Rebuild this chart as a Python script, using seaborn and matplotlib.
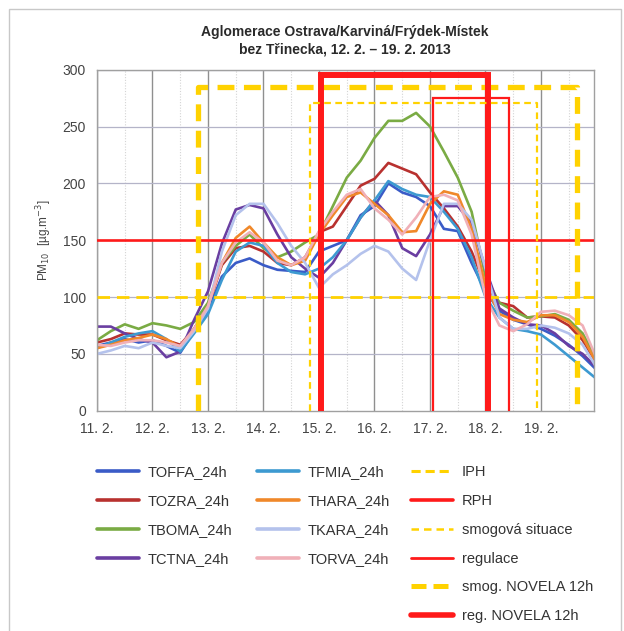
import numpy as np
import pandas as pd
import matplotlib.pyplot as plt
import seaborn as sns
from matplotlib.lines import Line2D
from matplotlib.patches import Rectangle

# hours since 11. 2. 00:00, one reading every 6 h
hours = list(range(0, 217, 6))

TOFFA = [57, 60, 63, 60, 62, 57, 51, 70, 88, 118, 130, 134, 128, 124, 123, 122, 140, 145, 150,
         172, 180, 200, 192, 188, 180, 160, 158, 130, 105, 88, 80, 76, 72, 66, 58, 48, 36]
TFMIA = [55, 60, 65, 68, 70, 63, 52, 68, 85, 115, 140, 148, 145, 130, 122, 120, 125, 135, 150,
         170, 185, 202, 195, 190, 188, 175, 160, 135, 100, 82, 72, 70, 67, 58, 48, 38, 28]
TOZRA = [60, 63, 68, 67, 67, 62, 58, 72, 92, 128, 143, 145, 140, 130, 128, 135, 157, 162, 180,
         198, 204, 218, 213, 208, 192, 178, 162, 140, 110, 95, 92, 82, 83, 82, 75, 62, 42]
THARA = [55, 58, 62, 64, 67, 63, 56, 72, 92, 130, 152, 162, 148, 135, 128, 132, 155, 172, 188,
         192, 182, 172, 157, 158, 182, 193, 190, 160, 110, 85, 80, 78, 84, 84, 78, 65, 42]
TBOMA = [62, 70, 76, 72, 77, 75, 72, 78, 95, 130, 145, 155, 143, 135, 140, 148, 155, 180, 205,
         220, 240, 255, 255, 262, 250, 228, 205, 175, 118, 95, 88, 82, 83, 85, 80, 68, 45]
TKARA = [50, 53, 57, 55, 60, 57, 55, 70, 90, 140, 172, 182, 182, 165, 145, 130, 108, 120, 128,
         138, 145, 140, 125, 115, 150, 182, 182, 168, 125, 82, 72, 72, 75, 73, 68, 58, 38]
TCTNA = [74, 74, 68, 63, 60, 47, 52, 80, 105, 147, 177, 181, 178, 155, 135, 125, 117, 130, 150,
         170, 185, 172, 143, 136, 155, 180, 180, 165, 125, 90, 82, 76, 75, 68, 57, 50, 38]
TORVA = [58, 57, 60, 62, 62, 60, 57, 72, 92, 130, 148, 157, 148, 132, 128, 135, 158, 175, 190,
         195, 178, 168, 155, 170, 188, 190, 185, 155, 100, 75, 70, 76, 87, 88, 84, 75, 46]

stations = ["TOFFA_24h", "TOZRA_24h", "TBOMA_24h", "TCTNA_24h",
            "TFMIA_24h", "THARA_24h", "TKARA_24h", "TORVA_24h"]
values = [TOFFA, TOZRA, TBOMA, TCTNA, TFMIA, THARA, TKARA, TORVA]
colors = ["#3a5bc7", "#b8312f", "#7aab44", "#6a3ea1",
          "#3d9ad1", "#f0882a", "#b4c2ec", "#f0b0b8"]

day_labels = ["11. 2.", "12. 2.", "13. 2.", "14. 2.", "15. 2.", "16. 2.", "17. 2.", "18. 2.", "19. 2."]

# limits
IPH = 100
RPH = 150

# episodes: name, start (days from 11. 2.), end, plotted level
ep_names = ["smog. NOVELA 12h", "reg. NOVELA 12h", "smogová situace", "regulace"]
ep_start = [1.82, 4.04, 3.84, 6.05]
ep_end = [8.65, 7.04, 7.93, 7.42]
ep_level = [285, 295, 271, 275]

df = pd.DataFrame({
    "day": np.tile(np.array(hours) / 24, len(stations)),
    "station": np.repeat(stations, len(hours)),
    "pm10": np.concatenate(values),
})

sns.set_theme(style="white")
plt.rcParams["font.family"] = ["Liberation Sans", "DejaVu Sans"]

fig = plt.figure(figsize=(6.24, 6.31), dpi=100)
ax = fig.add_axes([97 / 624, 1 - 410.7 / 631, 497 / 624, 341 / 631])

# grid
for d in range(0, 9):
    ax.axvline(d, color="#8f8f8f", lw=1.0, zorder=0)
    ax.axvline(d + 0.5, color="#d4d4d4", lw=0.8, ls=(0, (1, 1.5)), zorder=0)
for v in range(50, 301, 50):
    ax.axhline(v, color="#b4b4c8", lw=0.9, zorder=0)

sns.lineplot(data=df, x="day", y="pm10", hue="station", hue_order=stations,
             palette=dict(zip(stations, colors)), lw=1.9, legend=False, ax=ax, zorder=2)

yellow = "#ffd200"
red = "#ff1a1a"
styles = {
    "smog. NOVELA 12h": dict(color=yellow, lw=3.8, ls=(0, (3.2, 1.8))),
    "reg. NOVELA 12h": dict(color=red, lw=4.3, ls="-"),
    "smogová situace": dict(color=yellow, lw=1.6, ls=(0, (3, 2))),
    "regulace": dict(color=red, lw=1.6, ls="-"),
}
for name, s, e, lvl in zip(ep_names, ep_start, ep_end, ep_level):
    ax.plot([s, s, e, e], [0, lvl, lvl, 0], zorder=4, solid_joinstyle="miter", **styles[name])

ax.axhline(IPH, color=yellow, lw=2.0, ls=(0, (4.5, 2.5)), zorder=3)
ax.axhline(RPH, color=red, lw=1.9, zorder=3)

ax.set_xlim(0, 8.955)
ax.set_ylim(0, 300)
ax.set_xticks(range(9))
ax.set_xticklabels(day_labels)
ax.set_yticks(range(0, 301, 50))
ax.tick_params(axis="both", labelsize=10, colors="#8a8a8a", labelcolor="#444444",
               length=4, width=0.8, direction="out", pad=4)
ax.set_xlabel("")
ax.set_ylabel("PM$_{10}$  [µg.m$^{-3}$]", fontsize=8.5, color="#444444", labelpad=6)
for sp in ax.spines.values():
    sp.set_color("#a0a0a0")
    sp.set_linewidth(1.0)

fig.text(345 / 624, 1 - 32 / 631, "Aglomerace Ostrava/Karviná/Frýdek-Místek",
         ha="center", va="center", fontsize=10, fontweight="bold", color="#2a2a2a")
fig.text(345 / 624, 1 - 49 / 631, "bez Třinecka, 12. 2. – 19. 2. 2013",
         ha="center", va="center", fontsize=10, fontweight="bold", color="#2a2a2a")

# legends: three columns
col1 = [Line2D([], [], color=c, lw=2.6) for c in colors[:4]]
col2 = [Line2D([], [], color=c, lw=2.6) for c in colors[4:]]
col3 = [Line2D([], [], color=yellow, lw=2.2, ls=(0, (3, 1.6))),
        Line2D([], [], color=red, lw=2.6),
        Line2D([], [], color=yellow, lw=1.8, ls=(0, (3, 2))),
        Line2D([], [], color=red, lw=2.0),
        Line2D([], [], color=yellow, lw=3.6, ls=(0, (3, 1.4))),
        Line2D([], [], color=red, lw=4.0)]
labels3 = ["IPH", "RPH", "smogová situace", "regulace", "smog. NOVELA 12h", "reg. NOVELA 12h"]

leg_kw = dict(loc="upper left", frameon=False, fontsize=10.5, handlelength=2.9,
              handletextpad=0.6, labelspacing=1.02, borderpad=0, borderaxespad=0,
              labelcolor="#333333")
for hs, ls, x0 in [(col1, stations[:4], 97), (col2, stations[4:], 257), (col3, labels3, 411)]:
    fig.legend(hs, ls, bbox_to_anchor=(x0 / 624, 1 - 465 / 631), **leg_kw)

fig.patches.append(Rectangle((9 / 624, -0.1), 612 / 624, 1.1 - 9 / 631, transform=fig.transFigure,
                             fill=False, edgecolor="#c8c8c8", lw=1.0))

fig.savefig("out.png", dpi=100, facecolor="white")
